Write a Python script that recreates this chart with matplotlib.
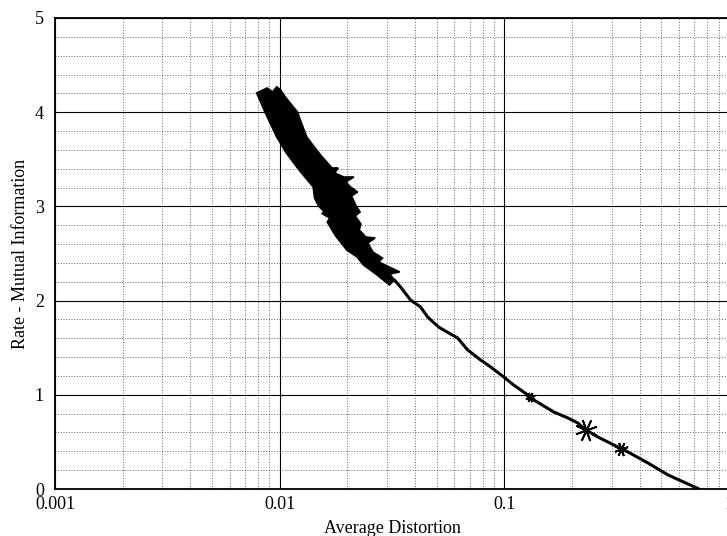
#!/usr/bin/env python3
"""
Rate vs average distortion curve (log-x), black & white print style
"""

import numpy as np
import matplotlib
matplotlib.use("Agg")
import matplotlib.pyplot as plt
from matplotlib.ticker import FixedLocator, LogLocator, NullFormatter, MultipleLocator

# Noisy dense part of the trace: right edge (top -> bottom)
band_right_d = [0.0088, 0.0093, 0.0097, 0.0101, 0.0106, 0.0120, 0.0126, 0.0132,
                0.0152, 0.0171, 0.0182, 0.0176, 0.0193, 0.0214, 0.0197, 0.0207,
                0.0222, 0.0209, 0.0219, 0.0228, 0.0217, 0.0230, 0.0226,
                0.0242, 0.0266, 0.0247, 0.0260, 0.0287, 0.0276, 0.0301,
                0.0342, 0.0309, 0.0324]
band_right_r = [4.257, 4.215, 4.270, 4.236, 4.161, 4.002, 3.864, 3.737,
                3.546, 3.408, 3.408, 3.355, 3.312, 3.312, 3.259, 3.206,
                3.153, 3.110, 3.004, 2.941, 2.898, 2.813, 2.749,
                2.675, 2.665, 2.611, 2.516, 2.452, 2.410, 2.367,
                2.304, 2.282, 2.219]

# left edge (bottom -> top)
band_left_d = [0.0308, 0.0268, 0.0236, 0.0221, 0.0199, 0.0179, 0.0172,
               0.0163, 0.0167, 0.0154, 0.0158, 0.0149, 0.0143, 0.0141, 0.0122,
               0.0107, 0.0097, 0.0086, 0.0079]
band_left_r = [2.166, 2.282, 2.378, 2.463, 2.537, 2.675, 2.739,
               2.834, 2.877, 2.925, 2.941, 3.004, 3.089, 3.206, 3.386,
               3.567, 3.737, 4.002, 4.204]

# Smooth tail of the curve
tail_d = [0.0324, 0.03452, 0.03825, 0.04240, 0.04556, 0.05099, 0.05368,
          0.06196, 0.06866, 0.07848, 0.08700, 0.09938, 0.1101, 0.1272,
          0.1353, 0.1499, 0.1661, 0.1918, 0.2124, 0.2306, 0.2609, 0.3075,
          0.3550, 0.4358, 0.5353, 0.7357]
tail_r = [2.219, 2.144, 2.006, 1.932, 1.826, 1.720, 1.688,
          1.603, 1.476, 1.369, 1.295, 1.189, 1.104, 0.998,
          0.945, 0.881, 0.817, 0.754, 0.701, 0.626, 0.552, 0.467,
          0.393, 0.276, 0.149, 0.0]

# little bursts along the tail
burst_d = [0.2306, 0.3320, 0.1300]
burst_r = [0.626, 0.420, 0.975]
burst_size = [16, 10, 7]

x_ticks = [0.001, 0.01, 0.1, 1]
x_labels = ["0.001", "0.01", "0.1", "1"]
y_ticks = [0, 1, 2, 3, 4, 5]

plt.rcParams["font.family"] = ["Liberation Serif", "DejaVu Serif"]

fig = plt.figure(figsize=(7.27, 5.36), dpi=100)
ax = fig.add_axes([55 / 727, 47 / 536, 674 / 727, 471 / 536])

ax.set_xscale("log")
ax.set_xlim(0.001, 1)
ax.set_ylim(0, 5)

# grid: solid majors, dotted minors
ax.xaxis.set_major_locator(FixedLocator(x_ticks))
ax.set_xticklabels(x_labels)
ax.xaxis.set_minor_locator(LogLocator(base=10, subs=np.arange(2, 10)))
ax.xaxis.set_minor_formatter(NullFormatter())
ax.yaxis.set_major_locator(FixedLocator(y_ticks))
ax.yaxis.set_minor_locator(MultipleLocator(0.2))
ax.grid(which="major", color="black", linewidth=0.8, linestyle="-", zorder=0)
ax.grid(which="minor", color="#333333", linewidth=0.6, linestyle=(0, (1, 2.2)), zorder=0)
ax.set_axisbelow(True)

ax.tick_params(which="both", length=0)
ax.tick_params(axis="x", pad=5, labelsize=13)
ax.tick_params(axis="y", pad=8, labelsize=13)

for side in ["left", "bottom", "top"]:
    ax.spines[side].set_linewidth(1.3)
    ax.spines[side].set_color("black")
ax.spines["right"].set_visible(False)

# dense band
band_d = band_right_d + band_left_d
band_r = band_right_r + band_left_r
ax.fill(band_d, band_r, facecolor="black", edgecolor="black", linewidth=1.2, zorder=3)

# tail
ax.plot(tail_d, tail_r, color="black", linewidth=2.2,
        solid_joinstyle="round", solid_capstyle="round", zorder=3)

for d, r, s in zip(burst_d, burst_r, burst_size):
    ax.plot([d], [r], marker=(8, 2, 20), markersize=s, color="black",
            markeredgewidth=1.3, zorder=4)

ax.set_xlabel("Average Distortion", fontsize=13, labelpad=5)
ax.set_ylabel("Rate - Mutual Information", fontsize=13, labelpad=4)

plt.savefig("out.png", dpi=100)
plt.close()
